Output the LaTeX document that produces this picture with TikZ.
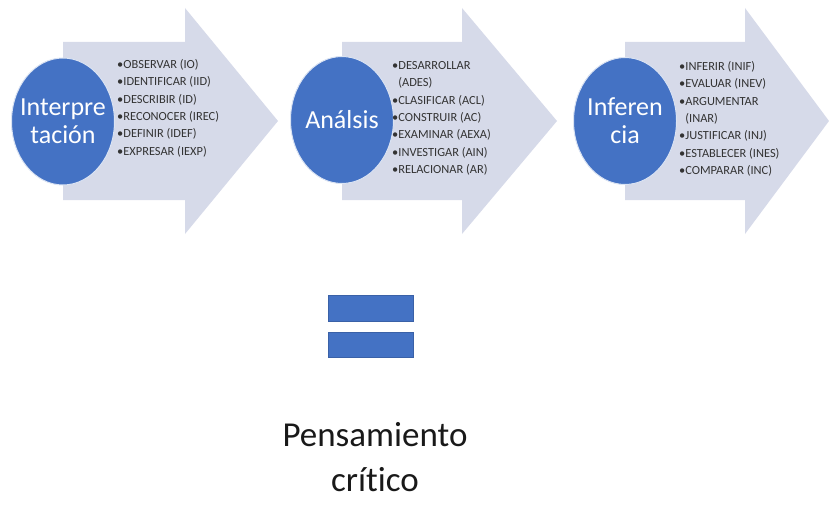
\documentclass[tikz,border=0pt]{standalone}
\usepackage{fontspec}
\setmainfont{Carlito}[Ligatures=NoCommon]
\usetikzlibrary{shapes.geometric}
\definecolor{arrowfill}{HTML}{D6DAE9}
\definecolor{circblue}{HTML}{4472C4}
\definecolor{listtext}{HTML}{333333}
\tikzset{
  bigarrow/.style={fill=arrowfill, draw=none},
  bubble/.style={ellipse, fill=circblue, draw=white!80!circblue, line width=1pt,
    minimum width=103pt, minimum height=127pt, inner sep=0pt},
  bubbletext/.style={text=white, align=center, font=\fontsize{26}{28}\selectfont},
  listnode/.style={anchor=north west, inner sep=0pt, align=left, text=listtext,
    font=\fontsize{12.4}{17.4}\selectfont},
  eqbar/.style={fill=circblue, draw=circblue!85!black, line width=0.6pt},
  bottomtext/.style={align=center, text=black!90, font=\fontsize{35}{45}\selectfont}
}
\begin{document}
\begin{tikzpicture}[x=1pt,y=-1pt]
\useasboundingbox (0,0) rectangle (829,508);
% arrows
\fill[bigarrow] (63,42) -- (185,42) -- (185,8) -- (278,121) -- (185,234) -- (185,200) -- (63,200) -- cycle;
\fill[bigarrow] (342,42) -- (462,42) -- (462,8) -- (557,121) -- (462,234) -- (462,200) -- (342,200) -- cycle;
\fill[bigarrow] (625,42) -- (745,42) -- (745,8) -- (829,121) -- (745,234) -- (745,200) -- (625,200) -- cycle;
% circles
\node[bubble] (c1) at (63,121.5) {};
\node[bubbletext] (t1) at (c1.center) {Interpre\\tación};
\node[bubble] (c2) at (342,120) {};
\node[bubbletext] (t2) at (c2.center) {Análsis};
\node[bubble] (c3) at (625,121) {};
\node[bubbletext] (t3) at (c3.center) {Inferen\\cia};
% lists
\node[listnode] (l1) at (117,59) {•OBSERVAR (IO)\\•IDENTIFICAR (IID)\\•DESCRIBIR (ID)\\•RECONOCER (IREC)\\•DEFINIR (IDEF)\\•EXPRESAR (IEXP)};
\node[listnode] (l2) at (392,61) {•DESARROLLAR\\\phantom{•}(ADES)\\•CLASIFICAR (ACL)\\•CONSTRUIR (AC)\\•EXAMINAR (AEXA)\\•INVESTIGAR (AIN)\\•RELACIONAR (AR)};
\node[listnode] (l3) at (679,61) {•INFERIR (INIF)\\•EVALUAR (INEV)\\•ARGUMENTAR\\\phantom{•}(INAR)\\•JUSTIFICAR (INJ)\\•ESTABLECER (INES)\\•COMPARAR (INC)};
% equals sign
\node[eqbar, minimum width=85pt, minimum height=26pt, inner sep=0pt] (eq1) at (370.5,308) {};
\node[eqbar, minimum width=85pt, minimum height=25pt, inner sep=0pt] (eq2) at (370.5,344.5) {};
% bottom text
\node[bottomtext] (pc) at (375,457) {Pensamiento\\crítico};
\end{tikzpicture}
\end{document}
